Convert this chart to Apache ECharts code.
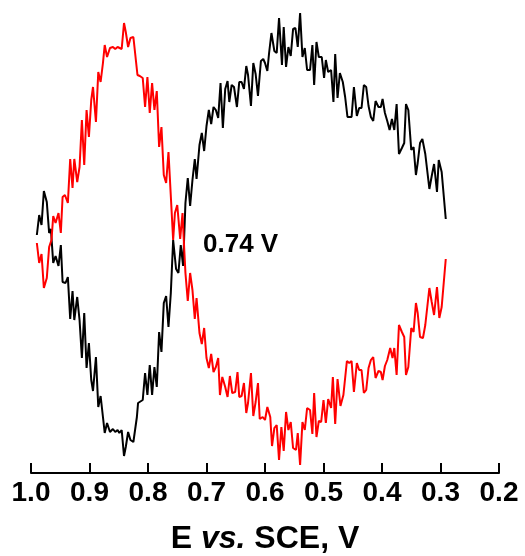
<!DOCTYPE html>
<html>
<head>
<meta charset="utf-8">
<script src="https://cdn.jsdelivr.net/npm/echarts@6/dist/echarts.min.js"></script>
<style>
  html, body { margin: 0; padding: 0; background: #fff; }
  #chart { width: 525px; height: 556px; }
</style>
</head>
<body>
<div id="chart"></div>
<script>
// --- 数据 (E / V vs. SCE, 电流为任意单位) ---
const blackE = [0.990,0.986,0.982,0.978,0.973,0.969,0.966,0.962,0.958,0.953,0.949,0.946,0.941,0.937,0.933,0.929,0.926,0.921,0.917,0.913,
  0.909,0.905,0.901,0.897,0.894,0.889,0.885,0.881,0.877,0.874,0.870,0.865,0.860,0.856,0.852,0.849,0.845,0.841,0.838,0.834,
  0.830,0.825,0.819,0.817,0.809,0.805,0.801,0.797,0.793,0.789,0.785,0.781,0.777,0.773,0.769,0.765,0.761,0.757,0.752,0.748,
  0.744,0.740,0.736,0.732,0.728,0.724,0.720,0.717,0.712,0.708,0.704,0.700,0.696,0.692,0.688,0.684,0.680,0.676,0.672,0.668,
  0.664,0.661,0.657,0.653,0.648,0.644,0.640,0.636,0.632,0.629,0.624,0.620,0.616,0.612,0.607,0.603,0.600,0.596,0.593,0.589,
  0.584,0.580,0.576,0.571,0.568,0.564,0.560,0.556,0.552,0.548,0.544,0.540,0.536,0.532,0.528,0.523,0.519,0.516,0.512,0.508,
  0.503,0.499,0.496,0.492,0.487,0.483,0.480,0.476,0.472,0.467,0.463,0.459,0.456,0.452,0.448,0.443,0.439,0.435,0.431,0.427,
  0.423,0.419,0.415,0.411,0.406,0.402,0.399,0.395,0.391,0.387,0.383,0.379,0.375,0.371,0.366,0.362,0.359,0.355,0.350,0.346,
  0.342,0.339,0.335,0.331,0.326,0.323,0.319,0.315,0.311,0.306,0.303,0.298,0.291];
const blackI = [238,258,248,282,271,240,244,210,217,207,228,191,190,196,154,182,153,176,153,115,
  160,105,130,93,82,116,66,77,56,40,50,41,44,41,43,40,43,17,26,41,
  33,31,56,70,73,100,78,108,78,106,86,141,121,170,177,146,180,233,204,200,
  228,207,270,295,267,293,314,294,328,340,322,347,363,349,366,363,355,390,345,384,
  392,371,388,386,366,391,391,384,407,398,367,410,399,377,412,414,410,402,420,440,
  422,420,455,408,446,406,426,417,444,445,426,460,416,425,403,403,428,388,431,416,
  416,395,413,401,403,371,419,375,400,391,376,356,357,356,386,357,365,365,388,386,
  367,356,352,372,366,366,374,360,352,343,354,343,369,319,325,330,369,363,323,326,
  298,310,330,334,319,318,284,297,309,281,313,301,254];

const redE = [0.990,0.986,0.982,0.978,0.973,0.969,0.965,0.962,0.958,0.953,0.949,0.946,0.942,0.937,0.933,0.929,0.926,0.921,0.917,0.913,
  0.909,0.905,0.901,0.897,0.894,0.889,0.885,0.881,0.877,0.874,0.870,0.865,0.860,0.856,0.852,0.849,0.845,0.841,0.838,0.834,
  0.830,0.825,0.818,0.814,0.809,0.805,0.801,0.797,0.793,0.789,0.785,0.781,0.777,0.773,0.769,0.765,0.757,0.754,0.750,0.745,
  0.741,0.738,0.736,0.732,0.728,0.724,0.720,0.717,0.712,0.708,0.704,0.700,0.696,0.692,0.688,0.684,0.680,0.677,0.673,0.668,
  0.664,0.660,0.656,0.651,0.647,0.644,0.640,0.636,0.632,0.629,0.624,0.620,0.616,0.612,0.609,0.604,0.600,0.596,0.591,0.588,
  0.584,0.580,0.576,0.572,0.568,0.564,0.560,0.556,0.552,0.547,0.544,0.540,0.536,0.532,0.528,0.523,0.519,0.516,0.512,0.508,
  0.504,0.500,0.496,0.492,0.487,0.484,0.480,0.476,0.471,0.466,0.460,0.456,0.452,0.448,0.443,0.439,0.435,0.431,0.427,0.423,
  0.419,0.415,0.411,0.406,0.402,0.399,0.395,0.391,0.386,0.382,0.379,0.375,0.371,0.366,0.362,0.359,0.355,0.350,0.346,0.342,
  0.339,0.335,0.330,0.326,0.323,0.319,0.315,0.311,0.306,0.302,0.298,0.291];
const redI = [230,210,219,185,195,226,233,257,250,260,240,276,278,270,314,285,314,291,306,353,
  308,363,336,373,386,351,401,391,410,428,416,425,426,424,426,427,424,450,441,426,
  435,436,398,397,395,366,396,360,390,363,382,326,346,298,290,321,233,260,268,234,
  260,223,200,172,200,183,154,175,140,129,145,115,105,119,101,106,115,78,96,86,
  76,97,80,81,101,76,77,90,60,70,100,57,71,90,54,56,53,66,56,27,
  45,48,13,46,22,61,43,51,25,23,40,8,51,43,65,63,39,80,36,52,
  51,73,50,74,65,96,49,94,67,78,112,110,112,81,110,103,103,80,83,105,
  113,116,95,102,101,93,107,113,125,115,125,98,148,141,136,98,106,145,141,170,
  160,136,135,148,150,185,171,158,186,155,166,214];

const xTicks = [1.0, 0.9, 0.8, 0.7, 0.6, 0.5, 0.4, 0.3, 0.2];
const annotation = '0.74 V';

const toPairs = (xs, ys) => xs.map((x, i) => [x, ys[i]]);

const chart = echarts.init(document.getElementById('chart'));

const FONT = '"Liberation Sans", Arial, sans-serif';

const option = {
  animation: false,
  backgroundColor: '#fff',
  grid: { left: 31, right: 26, top: 0, bottom: 83, containLabel: false, outerBoundsMode: 'none' },
  xAxis: {
    type: 'value',
    inverse: true,
    min: 0.2,
    max: 1.0,
    interval: 0.1,
    axisLine: { show: true, lineStyle: { color: '#000', width: 2 } },
    axisTick: { show: true, inside: true, length: 10, lineStyle: { color: '#000', width: 2 } },
    splitLine: { show: false },
    axisLabel: {
      margin: 6,
      color: '#000',
      fontFamily: FONT,
      fontWeight: 'bold',
      fontSize: 28,
      formatter: v => v.toFixed(1)
    },
    name: 'E {i|vs.} SCE, V',
    nameLocation: 'middle',
    nameGap: 50,
    nameTextStyle: {
      color: '#000',
      fontFamily: FONT,
      fontWeight: 'bold',
      fontSize: 32,
      rich: {
        i: { fontFamily: FONT, fontWeight: 'bold', fontStyle: 'italic', fontSize: 32, color: '#000' }
      }
    }
  },
  yAxis: {
    type: 'value',
    min: 0,
    max: 473,
    show: false
  },
  graphic: [
    {
      type: 'text',
      left: 203,
      top: 232,
      style: {
        text: annotation,
        fill: '#000',
        font: 'bold 26px "Liberation Sans", Arial, sans-serif'
      }
    }
  ],
  series: [
    {
      name: 'black',
      type: 'line',
      data: toPairs(blackE, blackI),
      showSymbol: false,
      symbol: 'none',
      lineStyle: { color: '#000', width: 2 },
      clip: false
    },
    {
      name: 'red',
      type: 'line',
      data: toPairs(redE, redI),
      showSymbol: false,
      symbol: 'none',
      lineStyle: { color: '#ff0000', width: 2 },
      clip: false
    }
  ]
};

chart.setOption(option);
</script>
</body>
</html>
